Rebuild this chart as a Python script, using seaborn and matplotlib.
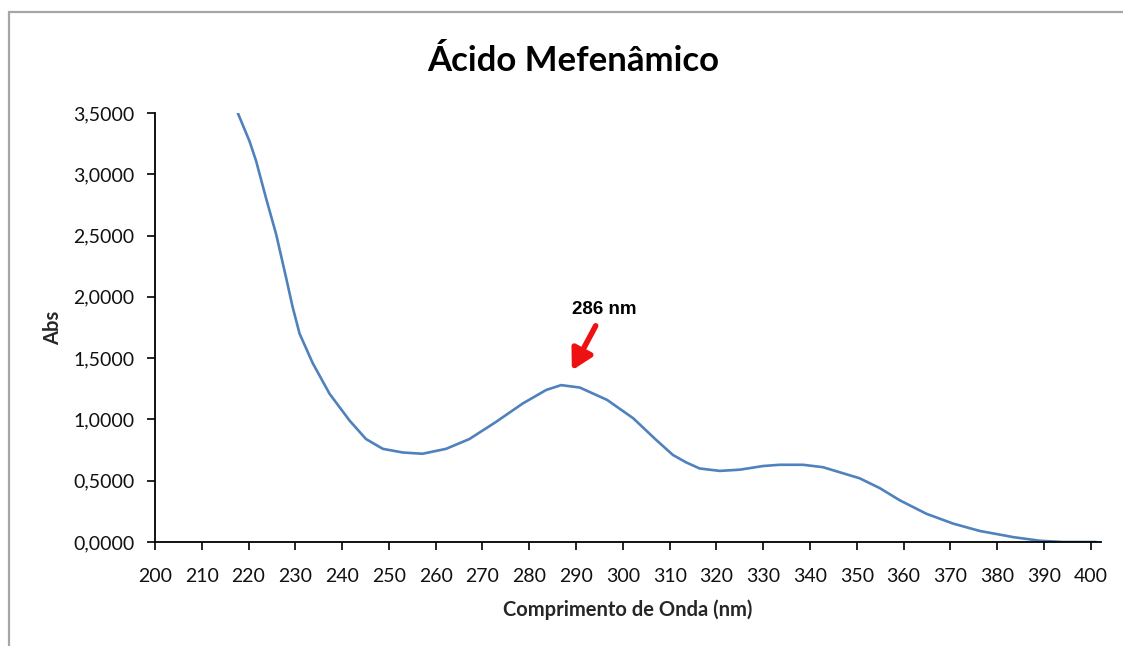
import matplotlib
matplotlib.use("Agg")
import matplotlib.pyplot as plt
import seaborn as sns
import pandas as pd
from matplotlib.lines import Line2D

# UV-Vis spectrum of mefenamic acid
wavelength = [217.7, 220.2, 221.6, 223.7, 225.9, 228.0, 229.4, 230.9, 233.7, 237.3,
              241.6, 245.1, 248.7, 253.0, 257.2, 262.2, 267.2, 272.9, 278.6, 283.6,
              286.8, 290.8, 296.6, 302.2, 307.2, 310.7, 313.5, 316.4, 320.7, 325.0,
              330.0, 333.5, 338.5, 342.8, 350.6, 354.9, 359.2, 364.9, 370.6, 376.3,
              380.6, 383.4, 389.2, 394.1, 401.2]
absorbance = [3.50, 3.27, 3.11, 2.81, 2.51, 2.16, 1.92, 1.70, 1.46, 1.21,
              0.99, 0.84, 0.76, 0.73, 0.72, 0.76, 0.84, 0.98, 1.13, 1.24,
              1.28, 1.26, 1.16, 1.01, 0.83, 0.71, 0.65, 0.60, 0.58, 0.59,
              0.62, 0.63, 0.63, 0.61, 0.52, 0.44, 0.34, 0.23, 0.15, 0.09,
              0.06, 0.04, 0.01, 0.00, 0.00]

x_ticks = list(range(200, 401, 10))
y_ticks = [0.0, 0.5, 1.0, 1.5, 2.0, 2.5, 3.0, 3.5]
y_tick_labels = ["0,0000", "0,5000", "1,0000", "1,5000", "2,0000", "2,5000", "3,0000", "3,5000"]

peak_label = "286 nm"
title = "Ácido Mefenâmico"
x_label = "Comprimento de Onda (nm)"
y_label = "Abs"

sns.set_theme(style="white")
plt.rcParams["font.family"] = ["Lato", "DejaVu Sans"]

df = pd.DataFrame({"wavelength": wavelength, "absorbance": absorbance})

fig = plt.figure(figsize=(11.23, 6.46), dpi=100)
ax = fig.add_axes([155 / 1123, 1 - 542 / 646, 946 / 1123, 429 / 646])

sns.lineplot(data=df, x="wavelength", y="absorbance", ax=ax,
             color="#4F81BD", linewidth=1.9, sort=False)

ax.set_xlim(200, 402.2)
ax.set_ylim(0, 3.5)
ax.set_xticks(x_ticks)
ax.set_xticklabels([str(t) for t in x_ticks], fontsize=14, color="#111111")
ax.set_yticks(y_ticks)
ax.set_yticklabels(y_tick_labels, fontsize=14, color="#111111")

ax.tick_params(axis="both", direction="out", length=6, width=1.2, color="black",
               bottom=True, left=True)
ax.tick_params(axis="x", pad=13)
ax.tick_params(axis="y", pad=9)
for side in ("top", "right"):
    ax.spines[side].set_visible(False)
for side in ("left", "bottom"):
    ax.spines[side].set_color("black")
    ax.spines[side].set_linewidth(1.3)

ax.set_xlabel(x_label, fontsize=14.5, fontweight="bold", labelpad=10)
ax.set_ylabel(y_label, fontsize=14.5, fontweight="bold", labelpad=7)

fig.text(573 / 1123, 1 - 61 / 646, title, ha="center", va="center",
         fontsize=25, fontweight="bold", color="black")

# Peak annotation
ax.annotate(peak_label, xy=(289.1, 1.40), xytext=(296.1, 1.90),
            ha="center", va="center", fontsize=13.5, fontweight="bold",
            family=["Liberation Sans", "DejaVu Sans"], color="black",
            arrowprops=dict(arrowstyle="-|>,head_length=0.9,head_width=0.5",
                            color="#ee1111", lw=4, shrinkA=4, shrinkB=0))

# Chart frame (left and top edges only)
frame_kw = dict(transform=fig.transFigure, color="#a6a6a6", linewidth=1.6)
fig.add_artist(Line2D([9 / 1123, 9 / 1123], [0, 1 - 12 / 646], **frame_kw))
fig.add_artist(Line2D([9 / 1123, 1], [1 - 12 / 646, 1 - 12 / 646], **frame_kw))

fig.savefig("out.png", dpi=100)
